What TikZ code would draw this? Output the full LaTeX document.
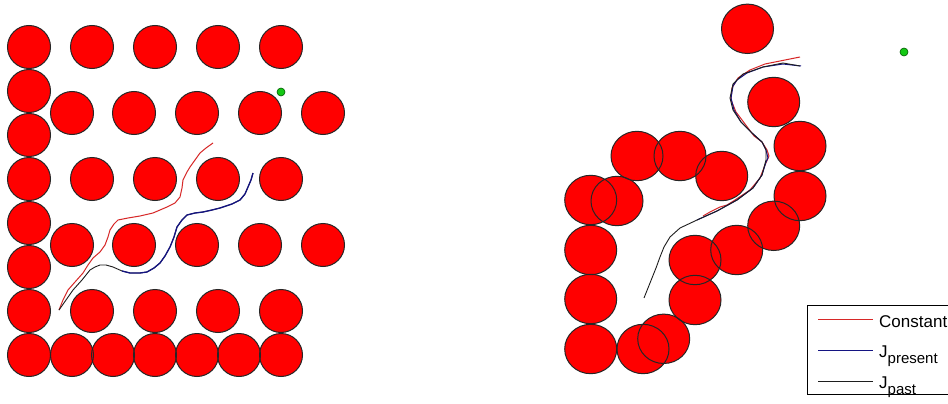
\documentclass[tikz,border=0pt]{standalone}
\usepackage{fontspec}
\setmainfont{Liberation Sans}
\begin{document}
\begin{tikzpicture}[x=1pt,y=-1pt,
  ballfill/.style={fill=red},
  ballline/.style={draw=black!85,line width=1pt},
  pathconst/.style={draw={rgb,255:red,215;green,40;blue,40},line width=1pt,line join=round},
  pathpres/.style={draw={rgb,255:red,20;green,20;blue,130},line width=1.3pt,line join=round},
  pathpast/.style={draw={rgb,255:red,30;green,30;blue,30},line width=0.9pt,line join=round},
  goal/.style={circle,fill={rgb,255:red,20;green,200;blue,20},draw={rgb,255:red,0;green,90;blue,0},line width=0.6pt,inner sep=0pt,minimum size=8pt},
  legtext/.style={font=\fontsize{17}{17}\selectfont,inner sep=0pt,anchor=base west}]
\useasboundingbox (0,0) rectangle (948,404);
\fill[white] (0,0) rectangle (948,404);
% ---------- left panel obstacles ----------
\def\leftballs{29/47,92/47,155/47,218/47,281/47,
  29/91,29/135,29/179,29/223,29/267,29/311,29/355,
  72/113,134/113,197/113,260/113,323/113,
  92/179,155/179,218/179,281/179,
  72/245,134/245,197/245,260/245,323/245,
  92/311,155/311,218/311,281/311,
  72/355,113/355,155/355,197/355,239/355,281/355}
\foreach \x/\y in \leftballs {\fill[ballfill] (\x,\y) circle[radius=21.5];}
\foreach \x/\y in \leftballs {\draw[ballline] (\x,\y) circle[radius=21.5];}
% ---------- right panel obstacles ----------
\def\rightballs{747.5/28.8,773.7/102,800/146,800/196,773.7/225.8,736.7/250,695/260,695/300,663.7/338.8,643/349,590.7/349,590.7/299,590.7/250,590.7/200,617/201,637/156,680/156,721.7/176}
\foreach \x/\y in \rightballs {\fill[ballfill] (\x,\y) ellipse[x radius=26,y radius=24.7];}
\foreach \x/\y in \rightballs {\draw[ballline] (\x,\y) ellipse[x radius=26,y radius=24.7];}
% ---------- goals ----------
\node[goal] (goalL) at (281,92) {};
\node[goal] (goalR) at (904,52) {};
% ---------- left paths ----------
\draw[pathconst] (59,310)--(63,300)--(68,290)--(75,282)--(83,273)--(88,265)--(93,258)--(100,252)--(105,245)--(108,237)--(110,230)--(114,224)--(118,220)--(128,218)--(140,216)--(153,213)--(160,210)--(167,207)--(175,203)--(180,197)--(182,188)--(183,180)--(187,172)--(190,167)--(195,160)--(200,153)--(206,148)--(213,143);
\draw[pathpast] (59,310)--(66,300)--(73,290)--(82,280)--(90,270)--(95,267)--(100,265)--(106,265)--(113,267)--(122,271)--(130,273)--(140,273)--(147,272)--(154,268)--(160,263)--(165,256)--(170,247)--(174,237)--(177,227)--(182,220)--(187,215)--(195,213)--(203,212)--(212,210)--(220,208)--(232,204)--(240,200)--(245,194)--(248,187)--(251,180)--(253,173);
\draw[pathpres] (122,271)--(130,273)--(140,273)--(147,272)--(154,268)--(160,263)--(165,256)--(170,247)--(174,237)--(177,227)--(182,220)--(187,215)--(195,213)--(203,212)--(212,210)--(220,208)--(232,204)--(240,200)--(245,194)--(248,187)--(251,180)--(253,173);
% ---------- right paths ----------
\draw[pathconst] (703,216)--(710,212)--(720,207)--(727,205)--(735,200)--(750,190)--(760,178)--(765,165)--(769,156)--(767,150)--(762,142)--(754,136)--(745,124)--(736,112)--(731,100)--(732,88)--(738,78)--(750,70)--(765,64)--(785,60)--(800,57);
\draw[pathpres,line width=1pt] (697,220)--(717,211)--(737,200)--(753,188)--(762,175)--(766,162)--(768,158)--(766,150)--(762,142)--(752,133)--(741,122)--(734,110)--(731,98)--(733,86)--(737,80)--(747,73)--(763,67)--(783,64)--(801,66);
\draw[pathpast] (644,298)--(650,283)--(656,268)--(660,257)--(664,247)--(670,237)--(680,228)--(697,220)--(717,211)--(737,200)--(753,188)--(762,175)--(766,160)--(766,150)--(762,142)--(752,133)--(741,122)--(733,110)--(730,98)--(733,84)--(743,74)--(763,67)--(783,63)--(800,66);
% ---------- legend ----------
\draw[line width=1pt] (807,305) rectangle (952,394);
\coordinate (l1a) at (818,319); \coordinate (l1b) at (873,319);
\coordinate (l2a) at (818,350); \coordinate (l2b) at (873,350);
\coordinate (l3a) at (818,381); \coordinate (l3b) at (873,381);
\draw[pathconst] (l1a) -- (l1b);
\draw[pathpres,line width=1pt] (l2a) -- (l2b);
\draw[pathpast] (l3a) -- (l3b);
\node[legtext] (tconst) at (879,327) {Constant};
\node[legtext] (tpres) at (879,357) {J\raisebox{-6pt}{\fontsize{15}{15}\selectfont present}};
\node[legtext] (tpast) at (879,388) {J\raisebox{-6pt}{\fontsize{15}{15}\selectfont past}};
\end{tikzpicture}
\end{document}
